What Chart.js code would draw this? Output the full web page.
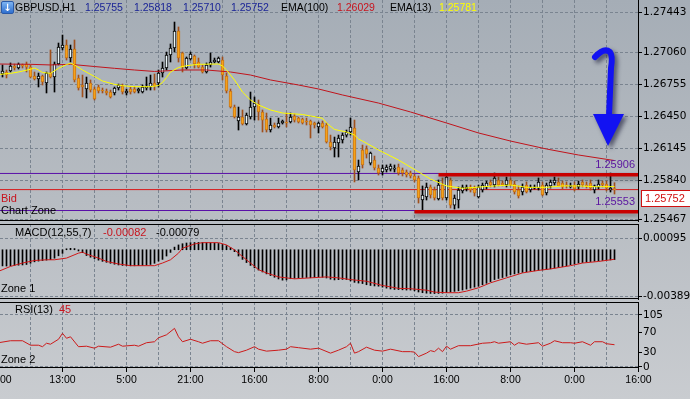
<!DOCTYPE html>
<html>
<head>
<meta charset="utf-8">
<script src="https://cdn.jsdelivr.net/npm/chart.js@4.4.1/dist/chart.umd.min.js"></script>
<style>
  html, body { margin: 0; padding: 0; }
  body {
    width: 690px; height: 399px; overflow: hidden; position: relative;
    background: linear-gradient(to bottom, #a5adb6 0%, #b7bcc2 50%, #c9ccd0 100%);
    font-family: "Liberation Sans", Arial, sans-serif; font-size: 11px; color: #000;
  }
  canvas { position: absolute; left: 0; }
  .lbl { position: absolute; white-space: nowrap; line-height: 13px; }
  .hdr { font-size: 10.5px; }
  .navy { color: #1a2496; }
  .red { color: #c8141e; }
  .purple { color: #5a14a0; }
  .icon {
    position: absolute; left: 1px; top: 1px; width: 11px; height: 11px;
    background: linear-gradient(#7db4f2, #2f6fcf); border: 1px solid #2a5aa8; border-radius: 2px;
    color: #fff; font: bold 10px "DejaVu Sans"; line-height: 11px; text-align: center;
  }
  .bidbox {
    position: absolute; left: 641px; top: 190px; width: 47px; height: 15px;
    background: #fff; border: 1px solid #d01010; color: #d01010;
    line-height: 15px; padding-left: 3px; font-size: 11px;
  }
</style>
</head>
<body>
<canvas id="mainChart" width="690" height="232" style="top:0px"></canvas>
<canvas id="macdChart" width="690" height="82" style="top:224px"></canvas>
<canvas id="rsiChart" width="690" height="97" style="top:302px"></canvas>

<div class="icon">↓</div>
<div class="lbl hdr" style="left:15px;top:1px">GBPUSD,H1</div>
<div class="lbl hdr navy" style="left:85px;top:1px">1.25755</div>
<div class="lbl hdr navy" style="left:134px;top:1px">1.25818</div>
<div class="lbl hdr navy" style="left:183px;top:1px">1.25710</div>
<div class="lbl hdr navy" style="left:231px;top:1px">1.25752</div>
<div class="lbl hdr" style="left:281px;top:1px">EMA(100)</div>
<div class="lbl hdr red" style="left:337px;top:1px">1.26029</div>
<div class="lbl hdr" style="left:390px;top:1px">EMA(13)</div>
<div class="lbl hdr" style="left:439px;top:1px;color:#ffff00">1.25781</div>

<div class="lbl purple" style="right:55px;top:158px">1.25906</div>
<div class="lbl purple" style="right:55px;top:195px">1.25553</div>
<div class="lbl red" style="left:1px;top:192px">Bid</div>
<div class="lbl" style="left:1px;top:204px">Chart Zone</div>
<div class="bidbox">1.25752</div>

<div class="lbl" style="left:15px;top:226px">MACD(12,55,7)</div>
<div class="lbl red" style="left:103px;top:226px">-0.00082</div>
<div class="lbl" style="left:156px;top:226px">-0.00079</div>
<div class="lbl" style="left:1px;top:282px">Zone 1</div>

<div class="lbl" style="left:15px;top:303px">RSI(13)</div>
<div class="lbl red" style="left:59px;top:303px">45</div>
<div class="lbl" style="left:1px;top:353px">Zone 2</div>

<script>
// ==========================================
// DATA (GBPUSD H1, bar index 0..154)
// ==========================================

// time axis labels, one per vertical grid line (every 8 bars)
const timeLabels = ['21:00', '', '13:00', '', '5:00', '', '21:00', '', '16:00', '', '8:00', '',
                    '0:00', '', '16:00', '', '8:00', '', '0:00', '', '16:00'];

const opens = [
  1.26892,1.26854,1.26873,1.26882,1.26930,1.26911,1.26940,1.26949,1.26920,1.26835,
  1.26806,1.26835,1.26768,1.26863,1.26825,1.26949,1.27102,1.27130,1.27006,1.27092,
  1.26816,1.26749,1.26711,1.26768,1.26711,1.26730,1.26701,1.26692,1.26682,1.26673,
  1.26720,1.26739,1.26673,1.26711,1.26711,1.26692,1.26682,1.26720,1.26730,1.26768,
  1.26768,1.26863,1.26911,1.27035,1.27102,1.27264,1.27054,1.26911,1.26997,1.27025,
  1.26968,1.26920,1.26873,1.26940,1.26968,1.26968,1.26987,1.26835,1.26692,1.26539,
  1.26406,1.26444,1.26377,1.26444,1.26539,1.26568,1.26492,1.26425,1.26320,1.26368,
  1.26349,1.26387,1.26396,1.26396,1.26454,1.26434,1.26425,1.26406,1.26406,1.26387,
  1.26349,1.26387,1.26368,1.26206,1.26149,1.26196,1.26225,1.26272,1.26301,1.26339,
  1.25920,1.26130,1.26139,1.26005,1.26034,1.25958,1.25920,1.25939,1.25948,1.25948,
  1.25967,1.25939,1.25920,1.25910,1.25882,1.25863,1.25653,1.25682,1.25777,1.25748,
  1.25663,1.25796,1.25672,1.25844,1.25605,1.25653,1.25739,1.25758,1.25777,1.25767,
  1.25682,1.25748,1.25777,1.25825,1.25796,1.25844,1.25815,1.25796,1.25844,1.25806,
  1.25748,1.25729,1.25796,1.25748,1.25767,1.25767,1.25796,1.25720,1.25787,1.25815,
  1.25825,1.25815,1.25796,1.25777,1.25796,1.25777,1.25825,1.25796,1.25815,1.25748,
  1.25777,1.25815,1.25806,1.25748,1.25755
];
const highs = [
  1.26930,1.26940,1.26892,1.26959,1.26949,1.26959,1.26949,1.26968,1.26940,1.26873,
  1.26863,1.26844,1.26873,1.27083,1.26968,1.27149,1.27225,1.27178,1.27130,1.27178,
  1.26844,1.26844,1.26825,1.26797,1.26730,1.26749,1.26720,1.26711,1.26701,1.26730,
  1.26758,1.26758,1.26711,1.26730,1.26730,1.26720,1.26749,1.26825,1.26844,1.26854,
  1.26892,1.26968,1.27063,1.27140,1.27349,1.27302,1.27063,1.27016,1.27063,1.27035,
  1.27006,1.26940,1.26959,1.27054,1.27006,1.27016,1.27016,1.26863,1.26711,1.26558,
  1.26539,1.26511,1.26482,1.26682,1.26635,1.26606,1.26511,1.26482,1.26434,1.26387,
  1.26434,1.26415,1.26482,1.26482,1.26473,1.26444,1.26434,1.26434,1.26415,1.26396,
  1.26396,1.26406,1.26387,1.26272,1.26253,1.26272,1.26292,1.26320,1.26434,1.26415,
  1.26034,1.26177,1.26168,1.26110,1.26072,1.25987,1.25987,1.25987,1.25996,1.25987,
  1.25996,1.25958,1.25939,1.25929,1.25901,1.25882,1.25787,1.25815,1.25796,1.25777,
  1.25844,1.25863,1.25891,1.25863,1.25701,1.25777,1.25796,1.25796,1.25796,1.25787,
  1.25796,1.25815,1.25834,1.25844,1.25910,1.25872,1.25834,1.25872,1.25863,1.25834,
  1.25787,1.25806,1.25825,1.25796,1.25796,1.25863,1.25825,1.25815,1.25844,1.25872,
  1.25863,1.25834,1.25825,1.25815,1.25825,1.25834,1.25844,1.25825,1.25844,1.25796,
  1.25844,1.25834,1.25834,1.25910,1.25818
];
const lows = [
  1.26854,1.26825,1.26816,1.26873,1.26892,1.26901,1.26911,1.26873,1.26816,1.26797,
  1.26730,1.26749,1.26673,1.26816,1.26682,1.26940,1.27083,1.26987,1.26968,1.26778,
  1.26701,1.26635,1.26625,1.26682,1.26606,1.26673,1.26673,1.26654,1.26625,1.26654,
  1.26701,1.26663,1.26654,1.26663,1.26673,1.26673,1.26673,1.26701,1.26701,1.26701,
  1.26730,1.26825,1.26892,1.26968,1.27063,1.26968,1.26873,1.26901,1.26987,1.26911,
  1.26911,1.26863,1.26863,1.26920,1.26959,1.26959,1.26797,1.26673,1.26530,1.26434,
  1.26320,1.26368,1.26368,1.26425,1.26415,1.26415,1.26301,1.26301,1.26301,1.26339,
  1.26339,1.26377,1.26349,1.26387,1.26396,1.26387,1.26377,1.26368,1.26244,1.26339,
  1.26292,1.26339,1.26196,1.26130,1.26063,1.26063,1.26196,1.26253,1.26272,1.25825,
  1.25844,1.25958,1.26053,1.25987,1.25939,1.25891,1.25891,1.25920,1.25929,1.25920,
  1.25891,1.25882,1.25872,1.25863,1.25825,1.25624,1.25558,1.25653,1.25672,1.25653,
  1.25653,1.25653,1.25653,1.25577,1.25567,1.25577,1.25720,1.25739,1.25729,1.25691,
  1.25672,1.25729,1.25758,1.25777,1.25777,1.25787,1.25787,1.25777,1.25787,1.25710,
  1.25672,1.25701,1.25720,1.25729,1.25758,1.25748,1.25691,1.25701,1.25767,1.25796,
  1.25787,1.25758,1.25767,1.25767,1.25739,1.25758,1.25777,1.25767,1.25748,1.25720,
  1.25758,1.25777,1.25739,1.25729,1.25710
];
const closes = [
  1.26882,1.26882,1.26844,1.26930,1.26911,1.26949,1.26930,1.26920,1.26825,1.26806,
  1.26835,1.26778,1.26863,1.26825,1.26949,1.27111,1.27130,1.27006,1.27092,1.26797,
  1.26720,1.26730,1.26768,1.26701,1.26616,1.26692,1.26692,1.26673,1.26635,1.26720,
  1.26749,1.26682,1.26692,1.26682,1.26682,1.26711,1.26730,1.26739,1.26768,1.26739,
  1.26863,1.26911,1.27035,1.27102,1.27264,1.27006,1.26920,1.27006,1.27044,1.26949,
  1.26920,1.26873,1.26940,1.26968,1.26987,1.27006,1.26844,1.26692,1.26539,1.26444,
  1.26444,1.26377,1.26463,1.26539,1.26577,1.26492,1.26415,1.26320,1.26368,1.26349,
  1.26387,1.26406,1.26387,1.26444,1.26415,1.26396,1.26387,1.26396,1.26368,1.26368,
  1.26387,1.26349,1.26206,1.26158,1.26206,1.26244,1.26272,1.26301,1.26349,1.25939,
  1.25977,1.25987,1.26091,1.26101,1.25958,1.25910,1.25958,1.25967,1.25977,1.25958,
  1.25910,1.25910,1.25891,1.25882,1.25844,1.25672,1.25701,1.25777,1.25701,1.25672,
  1.25796,1.25672,1.25872,1.25605,1.25672,1.25748,1.25777,1.25777,1.25748,1.25720,
  1.25777,1.25796,1.25815,1.25796,1.25863,1.25796,1.25796,1.25844,1.25796,1.25729,
  1.25691,1.25777,1.25729,1.25777,1.25777,1.25825,1.25701,1.25796,1.25825,1.25844,
  1.25787,1.25777,1.25787,1.25787,1.25758,1.25806,1.25796,1.25787,1.25767,1.25787,
  1.25806,1.25796,1.25767,1.25767,1.25752
];

// EMA(100), read at selected bars
const emaSlowIdx = [0, 8, 13, 18, 24, 29, 34, 39, 46, 52, 58, 63, 68, 75, 80, 86, 95, 103, 112, 120, 128, 137, 145, 154];
const emaSlow = [1.26949,1.26946,1.26940,1.26946,1.26925,1.26908,1.26892,1.26878,1.26892,1.26892,1.26873,1.26844,
                 1.26797,1.26749,1.26711,1.26654,1.26577,1.26492,1.26387,1.26292,1.26215,1.26139,1.26082,1.26029];

// EMA(13), read at selected bars
const emaFastIdx = [0,3,5,8,9,10,11,13,15,17,18,19,21,24,26,29,31,34,38,40,41,42,43,45,47,50,55,56,57,58,
                    59,61,63,65,68,71,76,78,81,82,84,87,89,90,91,95,100,104,108,112,116,124,128,132,137,141,145,149,154];
const emaFast = [1.26849,1.26860,1.26873,1.26899,1.26911,1.26892,1.26868,1.26860,1.26908,1.26944,
                 1.26956,1.26940,1.26892,1.26830,1.26787,1.26755,1.26742,1.26733,1.26733,1.26744,
                 1.26773,1.26820,1.26873,1.26916,1.26933,1.26946,1.26949,1.26930,1.26892,1.26844,
                 1.26797,1.26682,1.26606,1.26558,1.26511,1.26482,1.26468,1.26454,1.26432,1.26387,
                 1.26325,1.26301,1.26272,1.26234,1.26215,1.26130,1.26034,1.25944,1.25853,1.25787,
                 1.25765,1.25787,1.25796,1.25774,1.25774,1.25787,1.25787,1.25780,1.25781];

// MACD(12,55,7) histogram, one value per bar
const macdHist = [
  -0.00132,-0.00134,-0.00135,-0.00133,-0.00130,-0.00128,-0.00126,-0.00122,-0.00112,-0.00100,
  -0.00094,-0.00090,-0.00086,-0.00082,-0.00070,-0.00050,-0.00030,0.00008,0.00012,0.00010,
  -0.00010,-0.00024,-0.00048,-0.00062,-0.00074,-0.00086,-0.00096,-0.00104,-0.00112,-0.00120,
  -0.00126,-0.00130,-0.00132,-0.00133,-0.00133,-0.00132,-0.00130,-0.00127,-0.00122,-0.00112,
  -0.00094,-0.00080,-0.00052,-0.00022,0.00022,0.00040,0.00050,0.00056,0.00059,0.00060,
  0.00061,0.00060,0.00059,0.00058,0.00056,0.00052,0.00044,0.00034,0.00018,-0.00016,
  -0.00052,-0.00080,-0.00106,-0.00130,-0.00150,-0.00168,-0.00184,-0.00200,-0.00214,-0.00228,
  -0.00242,-0.00252,-0.00250,-0.00240,-0.00236,-0.00232,-0.00230,-0.00230,-0.00232,-0.00230,
  -0.00226,-0.00228,-0.00234,-0.00244,-0.00250,-0.00248,-0.00246,-0.00247,-0.00258,-0.00270,
  -0.00276,-0.00280,-0.00290,-0.00296,-0.00300,-0.00302,-0.00310,-0.00318,-0.00325,-0.00329,
  -0.00330,-0.00332,-0.00334,-0.00334,-0.00340,-0.00350,-0.00356,-0.00360,-0.00362,-0.00363,
  -0.00362,-0.00360,-0.00355,-0.00350,-0.00345,-0.00340,-0.00334,-0.00326,-0.00318,-0.00310,
  -0.00302,-0.00290,-0.00278,-0.00264,-0.00247,-0.00238,-0.00230,-0.00220,-0.00206,-0.00200,
  -0.00194,-0.00188,-0.00182,-0.00178,-0.00174,-0.00170,-0.00167,-0.00164,-0.00158,-0.00152,
  -0.00146,-0.00140,-0.00132,-0.00124,-0.00117,-0.00110,-0.00106,-0.00102,-0.00098,-0.00095,
  -0.00092,-0.00089,-0.00086,-0.00084,-0.00082
];

// MACD signal line, read at selected bars
const signalIdx = [0,3,6,9,12,14,17,20,21,22,25,27,30,33,39,41,43,45,46,49,51,55,57,59,61,63,65,67,70,74,
                   78,82,85,88,92,96,100,103,107,109,112,115,117,120,123,127,131,135,138,143,146,150,154];
const signalVals = [-0.00179,-0.00138,-0.00110,-0.00089,-0.00083,-0.00083,-0.00069,-0.00028,-0.00020,-0.00036,
                    -0.00069,-0.00097,-0.00118,-0.00132,-0.00132,-0.00110,-0.00083,-0.00028,0.00013,0.00048,
                    0.00059,0.00059,0.00040,-0.00001,-0.00056,-0.00110,-0.00165,-0.00192,-0.00225,-0.00241,
                    -0.00233,-0.00225,-0.00233,-0.00247,-0.00261,-0.00296,-0.00320,-0.00323,-0.00335,-0.00351,
                    -0.00356,-0.00356,-0.00343,-0.00315,-0.00274,-0.00233,-0.00192,-0.00171,-0.00159,-0.00132,
                    -0.00110,-0.00097,-0.00079];

// RSI(13), read at selected bars
const rsiIdx = [0,3,6,8,10,11,12,13,15,16,17,18,20,22,24,25,28,30,31,34,35,37,39,40,42,44,45,46,48,50,
                51,53,55,57,59,60,62,64,65,67,70,72,73,75,78,80,83,85,87,88,89,90,92,94,96,98,101,103,104,105,
                107,108,109,110,111,112,113,115,118,121,123,124,125,128,129,130,132,135,136,138,
                139,141,143,144,146,148,149,151,152,154];
const rsiVals = [49,53,53,44,44,41,48,46,56,68,58,61,41,42,38,42,40,46,42,44,42,49,51,59,65,78,61,51,56,51,
                 48,53,53,41,31,29,34,41,36,32,34,36,41,39,36,38,28,34,41,48,28,31,40,34,32,36,31,31,30,21,
                 28,33,31,38,31,42,36,43,43,48,49,51,48,51,44,49,46,49,42,48,
                 53,49,49,48,51,44,51,51,47,45];

// axis ticks
const priceTicks = [1.25467, 1.25840, 1.26145, 1.26450, 1.26755, 1.27060, 1.27443];
const macdTicks = [-0.00389, 0.00095];
const rsiTicks = [0, 30, 70, 105];

// horizontal levels and the drawn zone
const levelHigh = 1.25906;
const levelLow = 1.25553;
const bidPrice = 1.25752;
const zoneTop = 1.25894;
const zoneBottom = 1.25541;
const zoneTopStart = 110;
const zoneBottomStart = 104;

// ==========================================
// CHART SETUP
// ==========================================

const X_MIN = 0.375, X_MAX = 159.875;
const GRID = '#7a8490';
const xTickValues = timeLabels.map((_, k) => k * 8);

function xScale(showLabels) {
    return {
        type: 'linear', min: X_MIN, max: X_MAX, offset: false, bounds: 'data',
        afterBuildTicks: s => { s.ticks = xTickValues.map(v => ({ value: v })); },
        afterFit: s => { s.paddingLeft = 0; s.paddingRight = 0; s.height = showLabels ? 31 : 0; },
        grid: {
            offset: false, color: GRID, drawTicks: showLabels, tickLength: 4,
            tickColor: c => timeLabels[c.index] ? '#000' : 'rgba(0,0,0,0)'
        },
        border: { display: false, dash: [3, 2] },
        ticks: {
            display: showLabels, autoSkip: false, maxRotation: 0, minRotation: 0, padding: 2, color: '#000',
            font: { family: 'Liberation Sans', size: 10.5 },
            callback: (v, k) => timeLabels[k]
        }
    };
}

function yScale(min, max, values, fmt, hidden) {
    return {
        position: 'right', min: min, max: max, bounds: 'data',
        afterBuildTicks: s => { s.ticks = values.map(v => ({ value: v })); },
        afterFit: s => { s.width = 52; s.paddingTop = 0; s.paddingBottom = 0; },
        grid: {
            color: c => (hidden && c.tick && hidden.includes(c.tick.value)) ? 'rgba(0,0,0,0)' : GRID,
            tickLength: 4, tickColor: '#000'
        },
        border: { display: true, color: '#000', width: 1, dash: [3, 2] },
        ticks: { color: '#000', padding: 1, font: { family: 'DejaVu Sans', size: 10.5 }, callback: fmt }
    };
}

// black frame lines above / below each pane
const paneFrame = {
    id: 'paneFrame',
    afterDraw(chart, args, opts) {
        const { ctx, chartArea: a } = chart;
        ctx.save();
        ctx.strokeStyle = '#000';
        ctx.lineWidth = 1;
        ctx.beginPath();
        if (opts.top) { ctx.moveTo(a.left, a.top + 0.5); ctx.lineTo(a.right, a.top + 0.5); }
        ctx.moveTo(a.left, a.bottom - 0.5);
        ctx.lineTo(a.right, a.bottom - 0.5);
        ctx.stroke();
        ctx.restore();
    }
};

// soft shadow under the thick zone lines
const lineShadow = {
    id: 'lineShadow',
    beforeDatasetDraw(chart, args) {
        if (!chart.data.datasets[args.index].shadow) return;
        const ctx = chart.ctx;
        ctx.save();
        ctx.shadowColor = 'rgba(40,40,40,0.45)';
        ctx.shadowBlur = 4;
        ctx.shadowOffsetY = 3;
    },
    afterDatasetDraw(chart, args) {
        if (chart.data.datasets[args.index].shadow) chart.ctx.restore();
    }
};

// hand drawn blue arrow near the right edge
const trendArrow = {
    id: 'trendArrow',
    afterDatasetsDraw(chart) {
        const ctx = chart.ctx;
        const r = chart.chartArea.right;
        ctx.save();
        ctx.shadowColor = 'rgba(10,10,40,0.55)';
        ctx.shadowBlur = 4;
        ctx.shadowOffsetX = 3;
        ctx.shadowOffsetY = 3;
        ctx.strokeStyle = '#1212f2';
        ctx.fillStyle = '#1212f2';
        ctx.lineWidth = 6;
        ctx.lineCap = 'round';
        ctx.beginPath();
        ctx.moveTo(r - 43, 57);
        ctx.quadraticCurveTo(r - 34, 47, r - 28, 52);
        ctx.quadraticCurveTo(r - 25, 56, r - 27, 68);
        ctx.lineTo(r - 29, 116);
        ctx.stroke();
        ctx.beginPath();
        ctx.moveTo(r - 45, 114);
        ctx.lineTo(r - 14, 114);
        ctx.lineTo(r - 30, 146);
        ctx.closePath();
        ctx.fill();
        ctx.restore();
    }
};

Chart.defaults.font.family = 'DejaVu Sans';
Chart.defaults.font.size = 11;

const bullIdx = [], bearIdx = [];
opens.forEach((o, i) => (closes[i] >= o ? bullIdx : bearIdx).push(i));

const flatLine = (y, from, to, color, width, order, shadow) => ({
    type: 'line', data: [{ x: from, y: y }, { x: to, y: y }],
    borderColor: color, borderWidth: width, pointRadius: 0, order: order, shadow: shadow
});

const baseOptions = {
    responsive: false, animation: false, devicePixelRatio: 1, events: [],
    plugins: { legend: { display: false }, tooltip: { enabled: false } }
};

// ---- price pane ----
new Chart(document.getElementById('mainChart'), {
    type: 'bar',
    data: {
        datasets: [
            flatLine(zoneTop, zoneTopStart, 160, '#c80000', 3.5, 0, true),
            flatLine(zoneBottom, zoneBottomStart, 160, '#c80000', 3.5, 0, true),
            { type: 'line', data: emaFastIdx.map((x, k) => ({ x: x, y: emaFast[k] })),
              borderColor: '#ffff00', borderWidth: 1, pointRadius: 0, tension: 0, order: 1 },
            { type: 'line', data: emaSlowIdx.map((x, k) => ({ x: x, y: emaSlow[k] })),
              borderColor: '#c0141c', borderWidth: 1, pointRadius: 0, tension: 0, order: 2 },
            { data: bullIdx.map(i => ({ x: i, y: [opens[i], closes[i]] })),
              backgroundColor: '#eaf6fa', borderColor: '#000', borderWidth: 1, borderSkipped: false,
              barThickness: 3, grouped: false, minBarLength: 1, order: 3 },
            { data: bearIdx.map(i => ({ x: i, y: [opens[i], closes[i]] })),
              backgroundColor: '#f5a21a', borderColor: '#c7751a', borderWidth: 1, borderSkipped: false,
              barThickness: 3, grouped: false, minBarLength: 1, order: 3 },
            { data: bullIdx.map(i => ({ x: i, y: [lows[i], highs[i]] })),
              backgroundColor: '#000', barThickness: 1, grouped: false, order: 4 },
            { data: bearIdx.map(i => ({ x: i, y: [lows[i], highs[i]] })),
              backgroundColor: '#a0501c', barThickness: 1, grouped: false, order: 4 },
            flatLine(levelHigh, X_MIN, X_MAX, '#5a10a8', 1, 5, false),
            flatLine(levelLow, X_MIN, X_MAX, '#5a10a8', 1, 5, false),
            flatLine(bidPrice, X_MIN, X_MAX, '#d81818', 1, 5, false)
        ]
    },
    options: {
        ...baseOptions,
        layout: { padding: { left: 0, top: 0, right: 0, bottom: 11 } },
        plugins: { ...baseOptions.plugins, paneFrame: { top: false } },
        scales: {
            x: xScale(false),
            y: yScale(1.25453, 1.27559, priceTicks, v => v.toFixed(5))
        }
    },
    plugins: [paneFrame, lineShadow, trendArrow]
});

// ---- MACD pane ----
new Chart(document.getElementById('macdChart'), {
    type: 'bar',
    data: {
        datasets: [
            { type: 'line', data: signalIdx.map((x, k) => ({ x: x, y: signalVals[k] })),
              borderColor: '#d01818', borderWidth: 1, pointRadius: 0, tension: 0, order: 0 },
            { data: macdHist.map((v, i) => ({ x: i, y: v })),
              backgroundColor: '#000', barThickness: 1, grouped: false, order: 1 }
        ]
    },
    options: {
        ...baseOptions,
        layout: { padding: { left: 0, top: 0, right: 0, bottom: 7 } },
        plugins: { ...baseOptions.plugins, paneFrame: { top: true } },
        scales: {
            x: xScale(false),
            y: yScale(-0.004081, 0.002135, macdTicks, v => v.toFixed(5))
        }
    },
    plugins: [paneFrame]
});

// ---- RSI pane ----
new Chart(document.getElementById('rsiChart'), {
    type: 'line',
    data: {
        datasets: [
            { data: rsiIdx.map((x, k) => ({ x: x, y: rsiVals[k] })),
              borderColor: '#cc1a1a', borderWidth: 1, pointRadius: 0, tension: 0 }
        ]
    },
    options: {
        ...baseOptions,
        layout: { padding: 0 },
        plugins: { ...baseOptions.plugins, paneFrame: { top: true } },
        scales: {
            x: xScale(true),
            y: yScale(-2.03, 131.25, rsiTicks, v => String(v), [30, 70])
        }
    },
    plugins: [paneFrame]
});
</script>
</body>
</html>
